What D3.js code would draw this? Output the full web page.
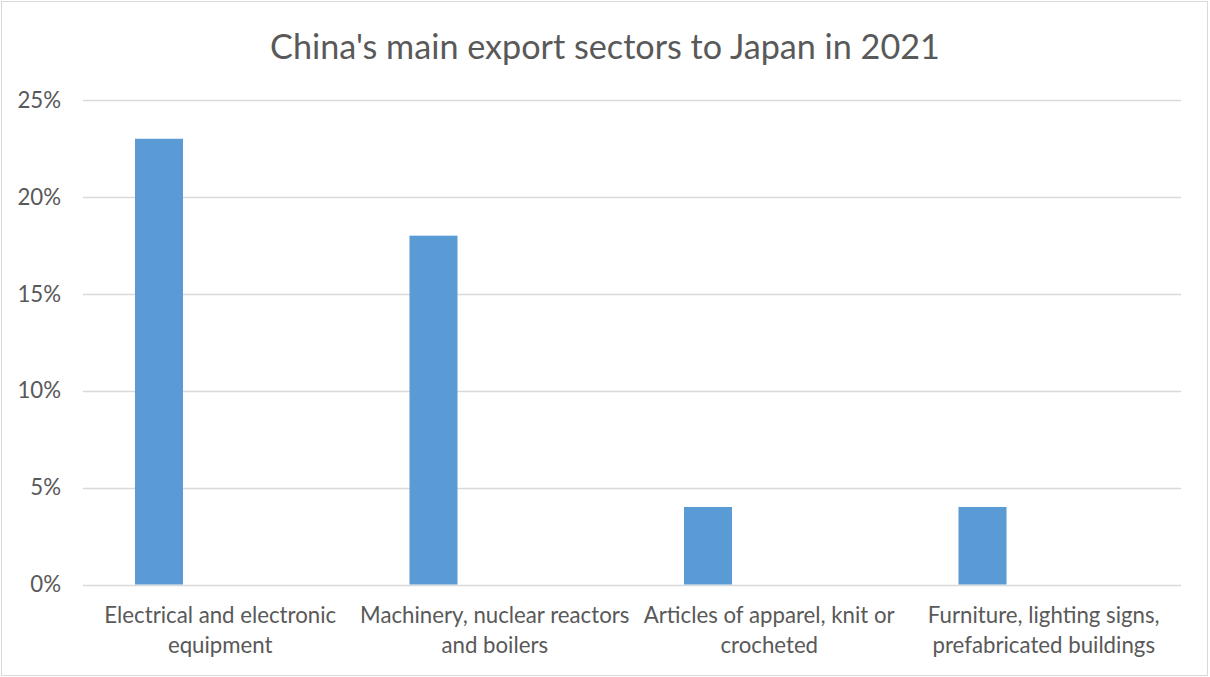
<!DOCTYPE html>
<html>
<head>
<meta charset="utf-8">
<script src="https://cdn.jsdelivr.net/npm/d3@7"></script>
<style>
  html, body { margin: 0; padding: 0; background: #fff; }
  svg { display: block; }
  text { font-family: Lato, "Open Sans", sans-serif; fill: #595959; }
</style>
</head>
<body>
<svg id="chart" width="1210" height="677"></svg>
<script>
// Export share by sector (fraction of China's exports to Japan, 2021)
const categories = [
  ["Electrical and electronic", "equipment"],
  ["Machinery, nuclear reactors", "and boilers"],
  ["Articles of apparel, knit or", "crocheted"],
  ["Furniture, lighting signs,", "prefabricated buildings"]
];
const shares = [0.23, 0.18, 0.04, 0.04];
const yTicks = [0, 0.05, 0.10, 0.15, 0.20, 0.25];
const title = "China's main export sectors to Japan in 2021";

const W = 1210, H = 677;
const plot = { left: 83, right: 1181, top: 100, bottom: 584.5 };

const svg = d3.select("#chart");

// outer frame
svg.append("rect")
  .attr("x", 1.5).attr("y", 1.5)
  .attr("width", W - 4).attr("height", H - 3)
  .attr("fill", "#fff").attr("stroke", "#D9D9D9").attr("stroke-width", 1);

const keys = categories.map(c => c.join(" "));
const x = d3.scaleBand().domain(keys).range([plot.left, plot.right]).padding(0);
const y = d3.scaleLinear().domain([0, 0.25]).range([plot.bottom, plot.top]);

// fit a text's font size so that it spans a given width
function fitSize(sel, startSize, targetWidth) {
  sel.style("font-size", startSize + "px");
  const w = sel.node().getComputedTextLength();
  const s = startSize * targetWidth / w;
  sel.style("font-size", s + "px");
  return s;
}

// gridlines
svg.append("g").selectAll("line")
  .data(yTicks)
  .join("line")
  .attr("x1", plot.left).attr("x2", plot.right)
  .attr("y1", d => Math.round(y(d)) + 0.5).attr("y2", d => Math.round(y(d)) + 0.5)
  .attr("stroke", "#D9D9D9").attr("stroke-width", 1.3);

// bars, sitting in the left part of each category slot
const barOffset = 0.1894, barWidth = 0.1749;
svg.append("g").selectAll("rect")
  .data(shares)
  .join("rect")
  .attr("x", (d, i) => x(keys[i]) + x.bandwidth() * barOffset)
  .attr("width", x.bandwidth() * barWidth)
  .attr("y", d => y(d))
  .attr("height", d => y(0) - y(d))
  .attr("fill", "#5B9BD5");

// measure axis font size from the first category label
const probe = svg.append("text").text(categories[0][0]);
const axisSize = fitSize(probe, 18, 232);
probe.remove();

// y axis labels
const fmt = d3.format(".0%");
svg.append("g").selectAll("text")
  .data(yTicks)
  .join("text")
  .attr("x", 61)
  .attr("y", d => y(d))
  .attr("dy", "0.35em")
  .attr("text-anchor", "end")
  .style("font-size", axisSize + "px")
  .text(d => fmt(d));

// category labels (two lines each)
const cat = svg.append("g").selectAll("text")
  .data(categories)
  .join("text")
  .attr("text-anchor", "middle")
  .style("font-size", axisSize + "px");
cat.each(function(lines, i) {
  const t = d3.select(this);
  const cx = x(keys[i]) + x.bandwidth() / 2;
  lines.forEach((ln, j) => {
    t.append("tspan").attr("x", cx).attr("y", 615 + j * 30).attr("dy", "0.35em").text(ln);
  });
});

// title
const tt = svg.append("text")
  .attr("x", 605).attr("y", 47).attr("dy", "0.35em")
  .attr("text-anchor", "middle")
  .text(title);
fitSize(tt, 30, 670);
</script>
</body>
</html>
